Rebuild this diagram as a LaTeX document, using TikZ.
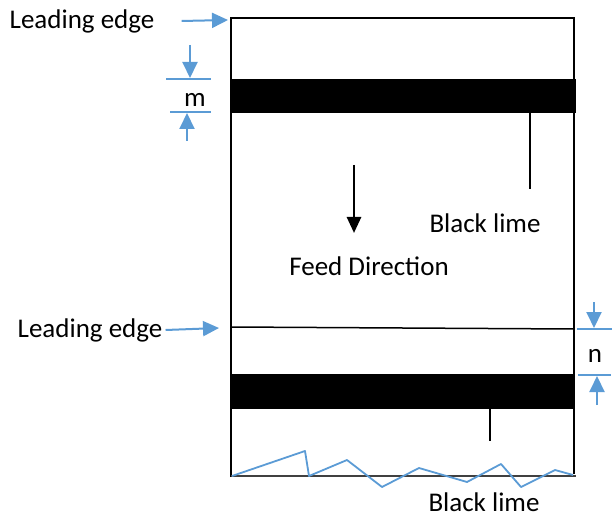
\documentclass[tikz,border=0pt]{standalone}
\usepackage{fontspec}
\setmainfont{Carlito}
\usetikzlibrary{arrows.meta}
\definecolor{accblue}{RGB}{91,155,213}
\tikzset{
  lbl/.style={inner sep=0pt, font=\fontsize{27}{30}\selectfont},
  blarrow/.style={draw=accblue, line width=2pt, -{Triangle[length=16pt,width=15pt]}},
  blline/.style={draw=accblue, line width=2pt},
  bar/.style={fill=black, draw=none},
}
\begin{document}
\begin{tikzpicture}[x=1pt,y=-1pt]
\useasboundingbox (0,0) rectangle (612,518);
% frame
\draw[line width=2.6pt] (231,477) -- (231,18) -- (574,18) -- (574,474);
\draw[line width=1.2pt, black!75] (231,476) -- (576,476);
% bars
\fill[bar] (231,79) rectangle (576,113);
\fill[bar] (231,374) rectangle (574,409);
% ticks
\draw[line width=2pt] (530,113) -- (530,189);
\draw[line width=2pt] (490,409) -- (490,441);
% leading edge line
\draw[line width=1.5pt] (231,327) -- (574,329);
% feed direction arrow
\coordinate (fa) at (354,165);
\coordinate (fb) at (354,233);
\draw[line width=2.6pt, -{Triangle[length=16pt,width=14pt]}] (fa) -- (fb);
% texts
\node[lbl] (le1) at (82,21) {Leading edge};
\node[lbl] (le2) at (90,330) {Leading edge};
\node[lbl] (bl1) at (485,223) {Black lime};
\node[lbl] (bl2) at (484,502) {Black lime};
\node[lbl] (fd) at (369,266) {Feed Direction};
\node[lbl] (m) at (195,100) {m};
\node[lbl] (n) at (595,356) {n};
% leading edge arrows
\coordinate (e1) at (228,20);
\coordinate (e2) at (219,328);
\draw[blarrow] ([xshift=27pt]le1.east) -- (e1);
\draw[blarrow] ([xshift=3pt]le2.east) -- (e2);
% m dimension
\draw[blline] (166,79) -- (211,79);
\draw[blline] (170,112) -- (211,112);
\coordinate (ma) at (190,45);
\coordinate (mb) at (190,78);
\coordinate (mc) at (187,141);
\coordinate (md) at (187,113);
\draw[blarrow] (ma) -- (mb);
\draw[blarrow] (mc) -- (md);
% n dimension
\draw[blline] (577,329) -- (612,329);
\draw[blline] (578,375) -- (611,375);
\coordinate (na) at (594,302);
\coordinate (nb) at (594,328);
\coordinate (nc) at (597,405);
\coordinate (nd) at (597,376);
\draw[blarrow] (na) -- (nb);
\draw[blarrow] (nc) -- (nd);
% zigzag
\draw[accblue, line width=1.8pt, line join=round]
  (232,476) -- (305,451) -- (309,476) -- (347,460) -- (382,487) -- (419,468)
  -- (467,482) -- (501,464) -- (521,487) -- (555,470) -- (573,475);
\end{tikzpicture}
\end{document}
